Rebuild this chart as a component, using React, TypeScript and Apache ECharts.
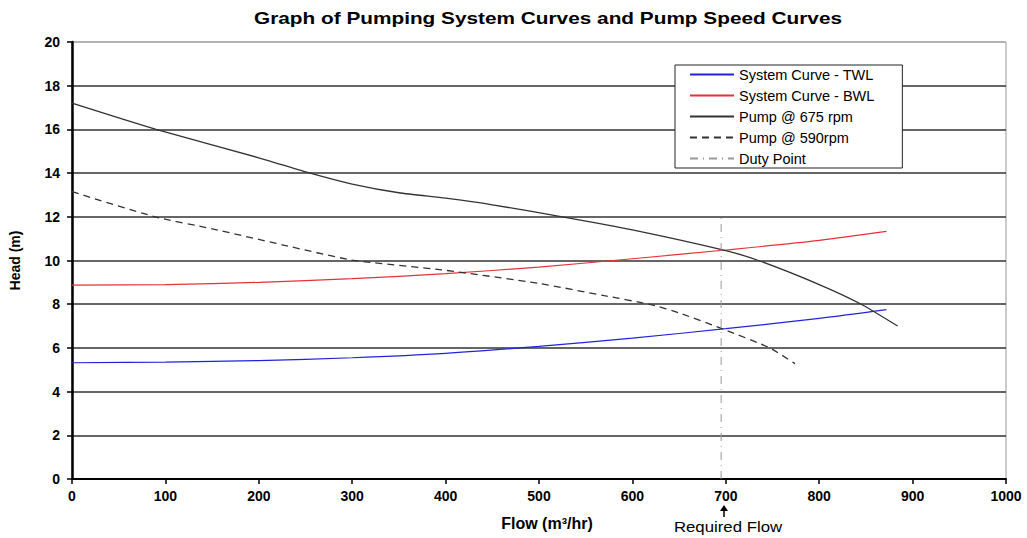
import React, { useEffect, useRef } from "react";
import * as echarts from "echarts";

const titleText = "Graph of Pumping System Curves and Pump Speed Curves";
const xName = "Flow (m³/hr)";
const yName = "Head (m)";
const noteText = "Required Flow";

const twlFlow = [0, 100, 200, 300, 400, 500, 600, 700, 800, 872];
const twlHead = [5.32, 5.35, 5.42, 5.55, 5.75, 6.07, 6.45, 6.88, 7.35, 7.75];

const bwlFlow = [0, 100, 200, 300, 400, 500, 600, 700, 800, 872];
const bwlHead = [8.87, 8.9, 9.0, 9.17, 9.4, 9.7, 10.08, 10.48, 10.92, 11.33];

const p675Flow = [0, 90, 200, 255, 300, 350, 400, 450, 525, 600, 700, 735, 800, 845, 884];
const p675Head = [17.2, 16.0, 14.7, 14.0, 13.5, 13.1, 12.85, 12.55, 12.0, 11.4, 10.45, 10.0, 8.9, 8.0, 7.0];

const p590Flow = [0, 89, 150, 225, 300, 400, 500, 570, 620, 650, 696, 747, 774];
const p590Head = [13.15, 12.0, 11.45, 10.72, 10.02, 9.55, 8.95, 8.39, 7.98, 7.6, 6.88, 6.0, 5.28];

const dutyFlow = [695, 695];
const dutyHead = [0, 12];

const zip = (xs: number[], ys: number[]) => xs.map((x, i) => [x, ys[i]]);

const FONT = "'Liberation Sans', Arial, sans-serif";

export default function App() {
  const ref = useRef<HTMLDivElement>(null);
  useEffect(() => {
    if (!ref.current) return;
    const chart = echarts.init(ref.current, undefined, { renderer: "svg" });
    const gridColors = Array.from({ length: 11 }, (_, i) => (i === 10 ? "#aaa" : "#333"));
    chart.setOption({
      animation: false,
      backgroundColor: "#fff",
      grid: { left: 70, right: 21, top: 42, bottom: 59, show: true, borderColor: "#999", borderWidth: 1 },
      legend: {
        left: 675,
        top: 65,
        orient: "vertical",
        backgroundColor: "#fff",
        borderColor: "#222",
        borderWidth: 1,
        borderRadius: 0,
        padding: [2, 28, 2, 14],
        itemWidth: 44,
        itemHeight: 14,
        itemGap: 6,
        itemStyle: { opacity: 0 },
        textStyle: { fontFamily: FONT, fontSize: 14.5, color: "#000" },
        data: ["System Curve - TWL", "System Curve - BWL", "Pump @ 675 rpm", "Pump @ 590rpm", "Duty Point"],
      },
      xAxis: {
        type: "value",
        min: 0,
        max: 1000,
        interval: 100,
        name: xName,
        nameLocation: "middle",
        nameGap: 36,
        nameTextStyle: { fontFamily: FONT, fontSize: 16, fontWeight: "bold", color: "#000", padding: [0, 0, 0, 16] },
        axisLine: { lineStyle: { color: "#000", width: 2 } },
        axisTick: { show: true, length: 5, lineStyle: { color: "#000", width: 1.5 } },
        axisLabel: {
          fontFamily: FONT,
          fontSize: 14,
          fontWeight: "bold",
          color: "#000",
          margin: 10,
          formatter: (v: number) => String(v),
        },
        splitLine: { show: false },
      },
      yAxis: {
        type: "value",
        min: 0,
        max: 20,
        interval: 2,
        name: yName,
        nameLocation: "middle",
        nameGap: 50,
        nameRotate: 90,
        nameTextStyle: { fontFamily: FONT, fontSize: 14, fontWeight: "bold", color: "#000" },
        axisLine: { show: true, lineStyle: { color: "#000", width: 2.5 } },
        axisTick: { show: true, length: 5, lineStyle: { color: "#000", width: 1.5 } },
        axisLabel: { fontFamily: FONT, fontSize: 14, fontWeight: "bold", color: "#000", margin: 12 },
        splitLine: { show: true, lineStyle: { color: gridColors, width: 1.5 } },
      },
      series: [
        {
          name: "System Curve - TWL",
          type: "line",
          symbol: "none",
          smooth: 0.3,
          data: zip(twlFlow, twlHead),
          lineStyle: { color: "#2222dd", width: 1.2 },
          itemStyle: { color: "#2222dd" },
        },
        {
          name: "System Curve - BWL",
          type: "line",
          symbol: "none",
          smooth: 0.3,
          data: zip(bwlFlow, bwlHead),
          lineStyle: { color: "#e8303a", width: 1.2 },
          itemStyle: { color: "#e8303a" },
        },
        {
          name: "Pump @ 675 rpm",
          type: "line",
          symbol: "none",
          smooth: 0.2,
          data: zip(p675Flow, p675Head),
          lineStyle: { color: "#333", width: 1.3 },
          itemStyle: { color: "#333" },
        },
        {
          name: "Pump @ 590rpm",
          type: "line",
          symbol: "none",
          smooth: 0.2,
          data: zip(p590Flow, p590Head),
          lineStyle: { color: "#333", width: 1.3, type: [7, 5] },
          itemStyle: { color: "#333" },
        },
        {
          name: "Duty Point",
          type: "line",
          symbol: "none",
          data: zip(dutyFlow, dutyHead),
          lineStyle: { color: "#999", width: 1, type: [8, 5, 1, 5] },
          itemStyle: { color: "#999" },
        },
      ],
      graphic: [
        {
          type: "text",
          x: 548,
          y: 10,
          scaleX: 1.3,
          originX: 0,
          style: {
            text: titleText,
            font: `bold 16px ${FONT}`,
            fill: "#000",
            align: "center",
            verticalAlign: "top",
          },
        },
        {
          type: "text",
          x: 728,
          y: 520,
          scaleX: 1.2,
          originX: 0,
          style: {
            text: noteText,
            font: `14px ${FONT}`,
            fill: "#000",
            align: "center",
            verticalAlign: "top",
          },
        },
        {
          type: "line",
          shape: { x1: 724, y1: 509, x2: 724, y2: 517 },
          style: { stroke: "#000", lineWidth: 1.5 },
        },
        {
          type: "polygon",
          shape: { points: [[720, 511], [728, 511], [724, 505]] },
          style: { fill: "#000" },
        },
      ],
    });
    return () => chart.dispose();
  }, []);
  return <div ref={ref} style={{ width: 1027, height: 538, position: "absolute", left: 0, top: 0 }} />;
}
